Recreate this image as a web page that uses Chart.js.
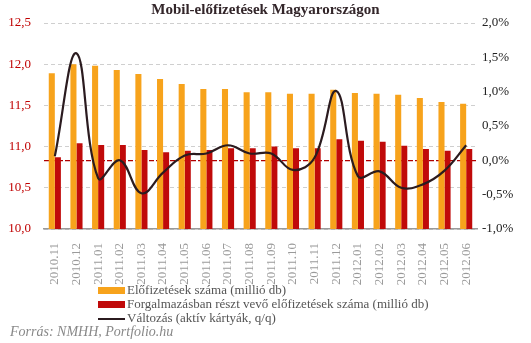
<!DOCTYPE html>
<html>
<head>
<meta charset="utf-8">
<script src="https://cdn.jsdelivr.net/npm/chart.js@4.4.1/dist/chart.umd.min.js"></script>
<style>
  body { margin: 0; background: #fff; }
  #wrap { position: relative; width: 531px; height: 343px; overflow: hidden; font-family: "Liberation Serif", serif; }
  #chartBox { position: absolute; left: 0; top: 0; width: 531px; height: 290px; }
  #title { position: absolute; top: 1px; left: 0; width: 531px; text-align: center; font-weight: bold; font-size: 15px; color: #33262a; }
  .leg { position: absolute; left: 98px; font-size: 13px; color: #555; white-space: nowrap; }
  .leg i { position: absolute; left: 0; width: 27px; }
  .leg span { position: absolute; left: 29px; top: -8px; }
  #source { position: absolute; left: 10px; top: 324px; font-size: 14px; font-style: italic; color: #888; }
</style>
</head>
<body>
<div id="wrap">
  <div id="chartBox"><canvas id="chart"></canvas></div>
  <div id="title">Mobil-előfizetések  Magyarországon</div>
  <div class="leg" style="top:290px"><i style="top:-3px;height:7px;background:#f7a31c"></i><span>Előfizetések száma (millió db)</span></div>
  <div class="leg" style="top:304px"><i style="top:-3px;height:7px;background:#c00a0a"></i><span>Forgalmazásban részt vevő előfizetések száma (millió db)</span></div>
  <div class="leg" style="top:318px"><i style="top:0px;height:2px;background:#2b1b1f"></i><span>Változás (aktív kártyák, q/q)</span></div>
  <div id="source">Forrás: NMHH, Portfolio.hu</div>
</div>
<script>
// Data
const months = ['2010.11', '2010.12', '2011.01', '2011.02', '2011.03', '2011.04', '2011.05', '2011.06', '2011.07', '2011.08',
  '2011.09', '2011.10', '2011.11', '2011.12', '2012.01', '2012.02', '2012.03', '2012.04', '2012.05', '2012.06'];
const subscriptions = [11.89, 12.00, 11.98, 11.93, 11.88, 11.82, 11.76, 11.70, 11.70, 11.66,
  11.66, 11.64, 11.64, 11.69, 11.65, 11.64, 11.63, 11.59, 11.54, 11.52];
const activeSubs = [10.87, 11.04, 11.02, 11.02, 10.96, 10.93, 10.95, 10.96, 10.98, 10.98,
  11.00, 10.98, 10.98, 11.09, 11.07, 11.06, 11.01, 10.97, 10.95, 10.97];
const changePct = [0.06, 1.56, -0.26, 0.00, -0.48, -0.18, 0.07, 0.10, 0.22, 0.10,
  0.10, -0.14, 0.04, 1.01, -0.23, -0.16, -0.40, -0.35, -0.15, 0.22];

const serif = "'Liberation Serif', serif";

new Chart(document.getElementById('chart'), {
  type: 'bar',
  data: {
    labels: months,
    datasets: [
      { type: 'line', label: 'Változás (aktív kártyák, q/q)', data: changePct, yAxisID: 'y1',
        borderColor: '#2b1b1f', borderWidth: 2.2, pointRadius: 0, tension: 0.4, fill: false, order: 0 },
      { label: 'Előfizetések száma (millió db)', data: subscriptions, backgroundColor: '#f7a31c', yAxisID: 'y', order: 1 },
      { label: 'Forgalmazásban részt vevő előfizetések száma (millió db)', data: activeSubs, backgroundColor: '#c00a0a', yAxisID: 'y', order: 1 }
    ]
  },
  options: {
    responsive: true,
    maintainAspectRatio: false,
    animation: false,
    layout: { padding: { top: 23, left: 0, right: 0, bottom: 0 } },
    datasets: { bar: { categoryPercentage: 0.56, barPercentage: 1.0 } },
    plugins: { legend: { display: false }, title: { display: false }, tooltip: { enabled: false } },
    scales: {
      x: {
        grid: { display: false },
        border: { display: true, color: '#9a9a9a', width: 1.5 },
        ticks: { color: '#9a9a9a', font: { family: serif, size: 13 }, minRotation: 90, maxRotation: 90, autoSkip: false, padding: 6 },
        afterFit: scale => { scale.height = 61; }
      },
      y: {
        position: 'left', min: 10, max: 12.5,
        grid: { color: '#cfcfcf', drawTicks: false },
        border: { display: false, dash: [4, 3] },
        ticks: { stepSize: 0.5, color: '#c00000', padding: 13, font: { family: serif, size: 13 },
          callback: v => v.toFixed(1).replace('.', ',') },
        afterFit: scale => { scale.width = 44; }
      },
      y1: {
        position: 'right', min: -1, max: 2,
        grid: { drawTicks: false, lineWidth: 1.2,
          color: ctx => (ctx.tick && ctx.tick.value === 0) ? '#b00000' : 'rgba(0,0,0,0)' },
        border: { display: false, dash: [5, 2] },
        ticks: { stepSize: 0.5, color: '#222', padding: 5, font: { family: serif, size: 13 },
          callback: v => v.toFixed(1).replace('.', ',') + '%' },
        afterFit: scale => { scale.width = 54; }
      }
    }
  }
});
</script>
</body>
</html>
